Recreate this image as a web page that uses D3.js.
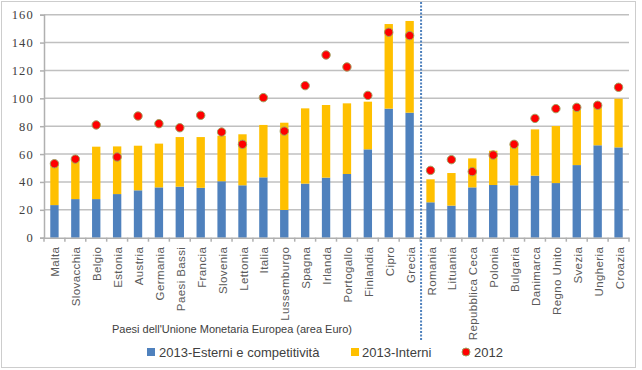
<!DOCTYPE html>
<html>
<head>
<meta charset="utf-8">
<script src="https://cdn.jsdelivr.net/npm/d3@7"></script>
<style>
  body { margin: 0; background: #fff; }
  svg { display: block; }
</style>
</head>
<body>
<div id="chart"></div>
<script>
const countries = ["Malta", "Slovacchia", "Belgio", "Estonia", "Austria", "Germania", "Paesi Bassi",
  "Francia", "Slovenia", "Lettonia", "Italia", "Lussemburgo", "Spagna", "Irlanda", "Portogallo",
  "Finlandia", "Cipro", "Grecia", "Romania", "Lituania", "Repubblica Ceca", "Polonia", "Bulgaria",
  "Danimarca", "Regno Unito", "Svezia", "Ungheria", "Croazia"]
const esterni2013 = [23.4, 27.7, 27.7, 31.3, 34.0, 36.1, 36.6, 35.8, 40.5, 37.6, 43.3, 19.9, 38.8,
  43.1, 45.7, 63.4, 92.6, 89.7, 25.4, 23.0, 36.1, 37.8, 37.6, 44.5, 39.2, 52.1, 66.3, 64.8]
const interni2013 = [29.9, 29.0, 37.6, 34.2, 32.0, 31.4, 35.6, 36.4, 32.7, 36.6, 37.6, 62.6, 54.0,
  52.1, 50.7, 34.2, 60.7, 65.8, 16.5, 23.4, 20.8, 24.6, 30.1, 33.2, 40.9, 39.5, 28.2, 34.9]
const val2012 = [53.1, 56.4, 80.9, 57.9, 87.3, 81.8, 78.9, 87.8, 75.8, 67.0, 100.5, 76.5, 109.1,
  131.1, 122.5, 102.1, 147.4, 145.0, 48.3, 56.0, 47.4, 59.3, 67.0, 85.6, 92.6, 93.5, 95.0, 107.9]
const yTicks = [0, 20, 40, 60, 80, 100, 120, 140, 160]
const euroCount = 18
const xTitle = "Paesi dell'Unione Monetaria Europea (area Euro)"
const legendLabels = ["2013-Esterni e competitività", "2013-Interni", "2012"]

const W = 642, H = 370
const PLOT = { LEFT: 44, RIGHT: 629, TOP: 14.7, BOTTOM: 237.7 }
const BLUE = "#4f81bd", YELLOW = "#ffc000", RED = "#ff0000"

const svg = d3.select("#chart").append("svg")
  .attr("width", W).attr("height", H)
  .style("font-family", "'Liberation Sans', Arial, sans-serif")

// outer dotted frame
svg.append("rect")
  .attr("x", 1.5).attr("y", 1.5).attr("width", 634).attr("height", 366)
  .attr("fill", "none").attr("stroke", "#9a9a9a").attr("stroke-dasharray", "1,1")

const x = d3.scaleBand().domain(countries)
  .range([PLOT.LEFT, PLOT.RIGHT]).paddingInner(0.6).paddingOuter(0.3)
const y = d3.scaleLinear().domain([0, 160]).range([PLOT.BOTTOM, PLOT.TOP])

// gridlines
svg.append("g").selectAll("line").data(yTicks.slice(1)).join("line")
  .attr("x1", PLOT.LEFT).attr("x2", PLOT.RIGHT)
  .attr("y1", d => y(d)).attr("y2", d => y(d))
  .attr("stroke", "#c0c0c0").attr("stroke-width", 1.5)

// y axis
const yAxis = svg.append("g").attr("transform", `translate(${PLOT.LEFT},0)`)
  .call(d3.axisLeft(y).tickValues(yTicks).tickSize(4).tickPadding(6))
yAxis.select(".domain").attr("stroke", "#b0b0b0").attr("stroke-width", 1.5)
yAxis.selectAll(".tick line").attr("stroke", "#b0b0b0").attr("stroke-width", 1.5)
yAxis.selectAll("text")
  .attr("fill", "#404040").attr("font-size", 12.5)
  .attr("letter-spacing", 1.2)
  .style("font-family", "'Liberation Serif', 'DejaVu Serif', serif")

// stacked bars
const stackData = countries.map((c, i) => ({ c, a: esterni2013[i], b: interni2013[i] }))
const bars = svg.append("g")
bars.selectAll(".blue").data(stackData).join("rect")
  .attr("x", d => x(d.c)).attr("width", x.bandwidth())
  .attr("y", d => y(d.a)).attr("height", d => y(0) - y(d.a))
  .attr("fill", BLUE)
bars.selectAll(".yellow").data(stackData).join("rect")
  .attr("x", d => x(d.c)).attr("width", x.bandwidth())
  .attr("y", d => y(d.a + d.b)).attr("height", d => y(d.a) - y(d.a + d.b))
  .attr("fill", YELLOW)

// x axis
const xAxis = svg.append("g").attr("transform", `translate(0,${PLOT.BOTTOM})`)
  .call(d3.axisBottom(x).tickSize(0).tickPadding(6))
xAxis.select(".domain").attr("stroke", "#b0b0b0").attr("stroke-width", 1.5)
xAxis.selectAll(".tick text")
  .attr("transform", "rotate(-90)")
  .attr("text-anchor", "end")
  .attr("x", -9).attr("y", 1).attr("dy", "0.35em")
  .attr("fill", "#5a5a5a").attr("font-size", 11.5)
  .attr("letter-spacing", 0.4)
xAxis.selectAll(".bound").data(d3.range(countries.length + 1)).join("line")
  .attr("x1", i => PLOT.LEFT + i * x.step()).attr("x2", i => PLOT.LEFT + i * x.step())
  .attr("y1", 0).attr("y2", 4)
  .attr("stroke", "#b0b0b0").attr("stroke-width", 1.5)

// 2012 dots
svg.append("g").selectAll("circle").data(countries).join("circle")
  .attr("cx", d => x(d) + x.bandwidth() / 2)
  .attr("cy", (d, i) => y(val2012[i]))
  .attr("r", 4.2)
  .attr("fill", RED).attr("stroke", "#a0a060").attr("stroke-width", 1)

// euro area separator
const sepX = PLOT.LEFT + euroCount * x.step() + 1
svg.append("line")
  .attr("x1", sepX).attr("x2", sepX).attr("y1", 2).attr("y2", 340)
  .attr("stroke", BLUE).attr("stroke-width", 2).attr("stroke-dasharray", "2,1.5")

// axis title
svg.append("text")
  .attr("x", 232).attr("y", 333)
  .attr("text-anchor", "middle")
  .attr("fill", "#404040").attr("font-size", 11)
  .text(xTitle)

// legend
const legend = svg.append("g").attr("font-size", 13).attr("fill", "#404040")
legend.append("rect").attr("x", 147).attr("y", 348).attr("width", 8).attr("height", 8).attr("fill", BLUE)
legend.append("text").attr("x", 159).attr("y", 352).attr("dy", "0.35em").text(legendLabels[0])
legend.append("rect").attr("x", 351).attr("y", 348).attr("width", 8).attr("height", 8).attr("fill", YELLOW)
legend.append("text").attr("x", 362).attr("y", 352).attr("dy", "0.35em").text(legendLabels[1])
legend.append("circle").attr("cx", 466).attr("cy", 352).attr("r", 4)
  .attr("fill", RED).attr("stroke", "#a0a060").attr("stroke-width", 1)
legend.append("text").attr("x", 474).attr("y", 352).attr("dy", "0.35em").text(legendLabels[2])
</script>
</body>
</html>
